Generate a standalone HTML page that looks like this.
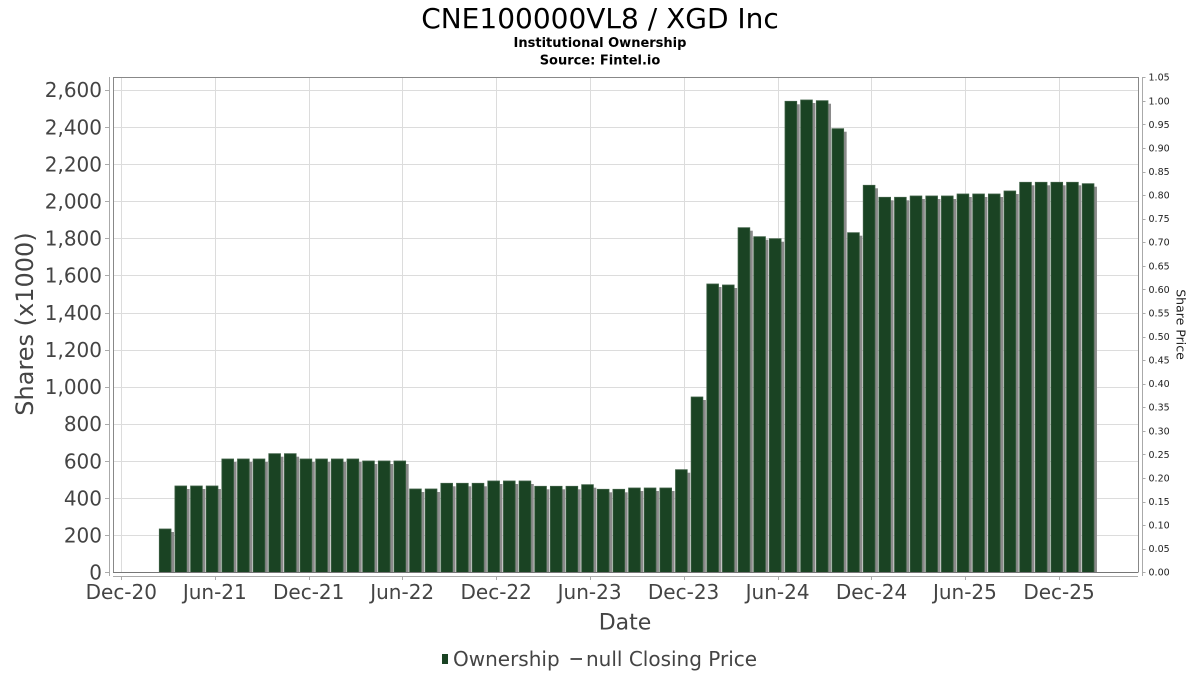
<!DOCTYPE html>
<html>
<head>
<meta charset="utf-8">
<style>
html,body{margin:0;padding:0;background:#fff;}
svg{display:block;}
text{font-family:"DejaVu Sans","Liberation Sans",sans-serif;}
.yl{font-size:20px;fill:#444;text-anchor:end;}
.xl{font-size:20px;fill:#444;text-anchor:middle;}
.rl{font-size:9.5px;fill:#222;}
</style>
</head>
<body>
<svg width="1200" height="675" viewBox="0 0 1200 675" xmlns="http://www.w3.org/2000/svg" xmlns:xlink="http://www.w3.org/1999/xlink">
<defs>
<clipPath id="pc"><rect x="113" y="77" width="1025" height="495.3"/></clipPath>
<g id="bm">
<rect x="159.30" y="529" width="11.7" height="100"/>
<rect x="174.94" y="486" width="11.7" height="100"/>
<rect x="190.59" y="486" width="11.7" height="100"/>
<rect x="206.23" y="486" width="11.7" height="100"/>
<rect x="221.87" y="459" width="11.7" height="200"/>
<rect x="237.52" y="459" width="11.7" height="200"/>
<rect x="253.16" y="459" width="11.7" height="200"/>
<rect x="268.80" y="453.7" width="11.7" height="200"/>
<rect x="284.44" y="453.7" width="11.7" height="200"/>
<rect x="300.09" y="459" width="11.7" height="200"/>
<rect x="315.73" y="459" width="11.7" height="200"/>
<rect x="331.37" y="459" width="11.7" height="200"/>
<rect x="347.02" y="459" width="11.7" height="200"/>
<rect x="362.66" y="461" width="11.7" height="200"/>
<rect x="378.30" y="461" width="11.7" height="200"/>
<rect x="393.95" y="461" width="11.7" height="200"/>
<rect x="409.59" y="489" width="11.7" height="200"/>
<rect x="425.23" y="489" width="11.7" height="200"/>
<rect x="440.87" y="483.3" width="11.7" height="200"/>
<rect x="456.52" y="483.3" width="11.7" height="200"/>
<rect x="472.16" y="483.3" width="11.7" height="200"/>
<rect x="487.80" y="481" width="11.7" height="200"/>
<rect x="503.45" y="481" width="11.7" height="200"/>
<rect x="519.09" y="481" width="11.7" height="200"/>
<rect x="534.73" y="486.3" width="11.7" height="200"/>
<rect x="550.38" y="486.3" width="11.7" height="200"/>
<rect x="566.02" y="486.3" width="11.7" height="200"/>
<rect x="581.66" y="484.7" width="11.7" height="200"/>
<rect x="597.30" y="489.3" width="11.7" height="200"/>
<rect x="612.95" y="489.3" width="11.7" height="200"/>
<rect x="628.59" y="488" width="11.7" height="200"/>
<rect x="644.23" y="488" width="11.7" height="200"/>
<rect x="659.88" y="488" width="11.7" height="200"/>
<rect x="675.52" y="469.7" width="11.7" height="200"/>
<rect x="691.16" y="397" width="11.7" height="300"/>
<rect x="706.81" y="284" width="11.7" height="400"/>
<rect x="722.45" y="285" width="11.7" height="400"/>
<rect x="738.09" y="227.7" width="11.7" height="400"/>
<rect x="753.73" y="236.7" width="11.7" height="400"/>
<rect x="769.38" y="238.7" width="11.7" height="400"/>
<rect x="785.02" y="101.3" width="11.7" height="500"/>
<rect x="800.66" y="100" width="11.7" height="500"/>
<rect x="816.31" y="100.7" width="11.7" height="500"/>
<rect x="831.95" y="128.7" width="11.7" height="500"/>
<rect x="847.59" y="232.7" width="11.7" height="400"/>
<rect x="863.24" y="185.3" width="11.7" height="400"/>
<rect x="878.88" y="197.3" width="11.7" height="400"/>
<rect x="894.52" y="197.3" width="11.7" height="400"/>
<rect x="910.16" y="196" width="11.7" height="400"/>
<rect x="925.81" y="196" width="11.7" height="400"/>
<rect x="941.45" y="196" width="11.7" height="400"/>
<rect x="957.09" y="194" width="11.7" height="400"/>
<rect x="972.74" y="194" width="11.7" height="400"/>
<rect x="988.38" y="194" width="11.7" height="400"/>
<rect x="1004.02" y="191" width="11.7" height="400"/>
<rect x="1019.67" y="182.3" width="11.7" height="400"/>
<rect x="1035.31" y="182.3" width="11.7" height="400"/>
<rect x="1050.95" y="182.3" width="11.7" height="400"/>
<rect x="1066.59" y="182.3" width="11.7" height="400"/>
<rect x="1082.24" y="183.7" width="11.7" height="400"/>
</g>
</defs>
<rect width="1200" height="675" fill="#fff"/>
<!-- titles -->
<text x="600" y="28" font-size="28" text-anchor="middle" fill="#000">CNE100000VL8 / XGD Inc</text>
<text x="600" y="47" font-size="13" font-weight="bold" text-anchor="middle" fill="#000">Institutional Ownership</text>
<text x="600" y="64.5" font-size="13" font-weight="bold" text-anchor="middle" fill="#000">Source: Fintel.io</text>

<!-- gridlines -->
<g stroke="#dcdcdc" stroke-width="1">
<line x1="113" y1="535.5" x2="1138" y2="535.5"/>
<line x1="113" y1="498.5" x2="1138" y2="498.5"/>
<line x1="113" y1="461.5" x2="1138" y2="461.5"/>
<line x1="113" y1="424.5" x2="1138" y2="424.5"/>
<line x1="113" y1="387.5" x2="1138" y2="387.5"/>
<line x1="113" y1="350.5" x2="1138" y2="350.5"/>
<line x1="113" y1="313.5" x2="1138" y2="313.5"/>
<line x1="113" y1="275.5" x2="1138" y2="275.5"/>
<line x1="113" y1="238.5" x2="1138" y2="238.5"/>
<line x1="113" y1="201.5" x2="1138" y2="201.5"/>
<line x1="113" y1="164.5" x2="1138" y2="164.5"/>
<line x1="113" y1="127.5" x2="1138" y2="127.5"/>
<line x1="113" y1="90.5" x2="1138" y2="90.5"/>
<line x1="121.5" y1="78" x2="121.5" y2="572"/>
<line x1="215.5" y1="78" x2="215.5" y2="572"/>
<line x1="309.5" y1="78" x2="309.5" y2="572"/>
<line x1="402.5" y1="78" x2="402.5" y2="572"/>
<line x1="496.5" y1="78" x2="496.5" y2="572"/>
<line x1="590.5" y1="78" x2="590.5" y2="572"/>
<line x1="684.5" y1="78" x2="684.5" y2="572"/>
<line x1="778.5" y1="78" x2="778.5" y2="572"/>
<line x1="871.5" y1="78" x2="871.5" y2="572"/>
<line x1="965.5" y1="78" x2="965.5" y2="572"/>
<line x1="1059.5" y1="78" x2="1059.5" y2="572"/>
</g>

<!-- bars -->
<g clip-path="url(#pc)">
<use xlink:href="#bm" href="#bm" transform="translate(3,3)" fill="#8a8a8a"/>
<use xlink:href="#bm" href="#bm" fill="#1a4323" stroke="#3c5f43" stroke-width="0.8"/>
</g>

<!-- plot border -->
<path d="M113.5 572.5 V77.5 H1138.5 V572.5" fill="none" stroke="#888" stroke-width="1"/>
<line x1="113" y1="572.5" x2="1138" y2="572.5" stroke="#777" stroke-width="1"/>
<!-- axes -->
<line x1="109.5" y1="77" x2="109.5" y2="576" stroke="#aaa" stroke-width="1"/>
<line x1="113" y1="576.5" x2="1138" y2="576.5" stroke="#aaa" stroke-width="1"/>
<line x1="1142.5" y1="77" x2="1142.5" y2="576" stroke="#aaa" stroke-width="1"/>

<!-- left ticks -->
<g stroke="#aaa" stroke-width="1">
<line x1="105" y1="572.5" x2="109.5" y2="572.5"/>
<line x1="105" y1="535.5" x2="109.5" y2="535.5"/>
<line x1="105" y1="498.5" x2="109.5" y2="498.5"/>
<line x1="105" y1="461.5" x2="109.5" y2="461.5"/>
<line x1="105" y1="424.5" x2="109.5" y2="424.5"/>
<line x1="105" y1="387.5" x2="109.5" y2="387.5"/>
<line x1="105" y1="350.5" x2="109.5" y2="350.5"/>
<line x1="105" y1="313.5" x2="109.5" y2="313.5"/>
<line x1="105" y1="275.5" x2="109.5" y2="275.5"/>
<line x1="105" y1="238.5" x2="109.5" y2="238.5"/>
<line x1="105" y1="201.5" x2="109.5" y2="201.5"/>
<line x1="105" y1="164.5" x2="109.5" y2="164.5"/>
<line x1="105" y1="127.5" x2="109.5" y2="127.5"/>
<line x1="105" y1="90.5" x2="109.5" y2="90.5"/>
</g>
<text class="yl" x="102" y="579.6">0</text>
<text class="yl" x="102" y="542.5">200</text>
<text class="yl" x="102" y="505.4">400</text>
<text class="yl" x="102" y="468.3">600</text>
<text class="yl" x="102" y="431.2">800</text>
<text class="yl" x="102" y="394.1">1,000</text>
<text class="yl" x="102" y="356.9">1,200</text>
<text class="yl" x="102" y="319.8">1,400</text>
<text class="yl" x="102" y="282.7">1,600</text>
<text class="yl" x="102" y="245.6">1,800</text>
<text class="yl" x="102" y="208.5">2,000</text>
<text class="yl" x="102" y="171.4">2,200</text>
<text class="yl" x="102" y="134.3">2,400</text>
<text class="yl" x="102" y="97.2">2,600</text>

<!-- right ticks -->
<g stroke="#aaa" stroke-width="1">
<line x1="1142.5" y1="572.5" x2="1145.5" y2="572.5"/>
<line x1="1142.5" y1="549.5" x2="1145.5" y2="549.5"/>
<line x1="1142.5" y1="525.5" x2="1145.5" y2="525.5"/>
<line x1="1142.5" y1="502.5" x2="1145.5" y2="502.5"/>
<line x1="1142.5" y1="478.5" x2="1145.5" y2="478.5"/>
<line x1="1142.5" y1="454.5" x2="1145.5" y2="454.5"/>
<line x1="1142.5" y1="431.5" x2="1145.5" y2="431.5"/>
<line x1="1142.5" y1="407.5" x2="1145.5" y2="407.5"/>
<line x1="1142.5" y1="384.5" x2="1145.5" y2="384.5"/>
<line x1="1142.5" y1="360.5" x2="1145.5" y2="360.5"/>
<line x1="1142.5" y1="337.5" x2="1145.5" y2="337.5"/>
<line x1="1142.5" y1="313.5" x2="1145.5" y2="313.5"/>
<line x1="1142.5" y1="289.5" x2="1145.5" y2="289.5"/>
<line x1="1142.5" y1="266.5" x2="1145.5" y2="266.5"/>
<line x1="1142.5" y1="242.5" x2="1145.5" y2="242.5"/>
<line x1="1142.5" y1="219.5" x2="1145.5" y2="219.5"/>
<line x1="1142.5" y1="195.5" x2="1145.5" y2="195.5"/>
<line x1="1142.5" y1="172.5" x2="1145.5" y2="172.5"/>
<line x1="1142.5" y1="148.5" x2="1145.5" y2="148.5"/>
<line x1="1142.5" y1="124.5" x2="1145.5" y2="124.5"/>
<line x1="1142.5" y1="101.5" x2="1145.5" y2="101.5"/>
<line x1="1142.5" y1="77.5" x2="1145.5" y2="77.5"/>
</g>
<text class="rl" x="1148.5" y="575.7">0.00</text>
<text class="rl" x="1148.5" y="552.1">0.05</text>
<text class="rl" x="1148.5" y="528.6">0.10</text>
<text class="rl" x="1148.5" y="505.0">0.15</text>
<text class="rl" x="1148.5" y="481.4">0.20</text>
<text class="rl" x="1148.5" y="457.8">0.25</text>
<text class="rl" x="1148.5" y="434.3">0.30</text>
<text class="rl" x="1148.5" y="410.7">0.35</text>
<text class="rl" x="1148.5" y="387.1">0.40</text>
<text class="rl" x="1148.5" y="363.6">0.45</text>
<text class="rl" x="1148.5" y="340.0">0.50</text>
<text class="rl" x="1148.5" y="316.4">0.55</text>
<text class="rl" x="1148.5" y="292.8">0.60</text>
<text class="rl" x="1148.5" y="269.3">0.65</text>
<text class="rl" x="1148.5" y="245.7">0.70</text>
<text class="rl" x="1148.5" y="222.1">0.75</text>
<text class="rl" x="1148.5" y="198.6">0.80</text>
<text class="rl" x="1148.5" y="175.0">0.85</text>
<text class="rl" x="1148.5" y="151.4">0.90</text>
<text class="rl" x="1148.5" y="127.8">0.95</text>
<text class="rl" x="1148.5" y="104.3">1.00</text>
<text class="rl" x="1148.5" y="80.7">1.05</text>

<!-- x ticks -->
<g stroke="#aaa" stroke-width="1">
<line x1="121.5" y1="576.5" x2="121.5" y2="580"/>
<line x1="215.5" y1="576.5" x2="215.5" y2="580"/>
<line x1="309.5" y1="576.5" x2="309.5" y2="580"/>
<line x1="402.5" y1="576.5" x2="402.5" y2="580"/>
<line x1="496.5" y1="576.5" x2="496.5" y2="580"/>
<line x1="590.5" y1="576.5" x2="590.5" y2="580"/>
<line x1="684.5" y1="576.5" x2="684.5" y2="580"/>
<line x1="778.5" y1="576.5" x2="778.5" y2="580"/>
<line x1="871.5" y1="576.5" x2="871.5" y2="580"/>
<line x1="965.5" y1="576.5" x2="965.5" y2="580"/>
<line x1="1059.5" y1="576.5" x2="1059.5" y2="580"/>
</g>
<text class="xl" x="121.3" y="599">Dec-20</text>
<text class="xl" x="214.8" y="599">Jun-21</text>
<text class="xl" x="308.7" y="599">Dec-21</text>
<text class="xl" x="402.2" y="599">Jun-22</text>
<text class="xl" x="496.2" y="599">Dec-22</text>
<text class="xl" x="589.6" y="599">Jun-23</text>
<text class="xl" x="683.6" y="599">Dec-23</text>
<text class="xl" x="777.6" y="599">Jun-24</text>
<text class="xl" x="871.5" y="599">Dec-24</text>
<text class="xl" x="964.9" y="599">Jun-25</text>
<text class="xl" x="1059" y="599">Dec-25</text>

<!-- axis titles -->
<text transform="translate(33,324) rotate(-90)" font-size="24" text-anchor="middle" fill="#444">Shares (x1000)</text>
<text transform="translate(1176.5,324.5) rotate(90)" font-size="12.5" text-anchor="middle" fill="#222">Share Price</text>
<text x="625" y="629.5" font-size="22" text-anchor="middle" fill="#444">Date</text>

<!-- legend -->
<rect x="442" y="654" width="6" height="10" fill="#1a4323"/>
<text x="453" y="666" font-size="20" fill="#444">Ownership</text>
<line x1="570.5" y1="659" x2="582" y2="659" stroke="#555" stroke-width="2"/>
<text x="586" y="666" font-size="20" fill="#444">null Closing Price</text>
</svg>
</body>
</html>
